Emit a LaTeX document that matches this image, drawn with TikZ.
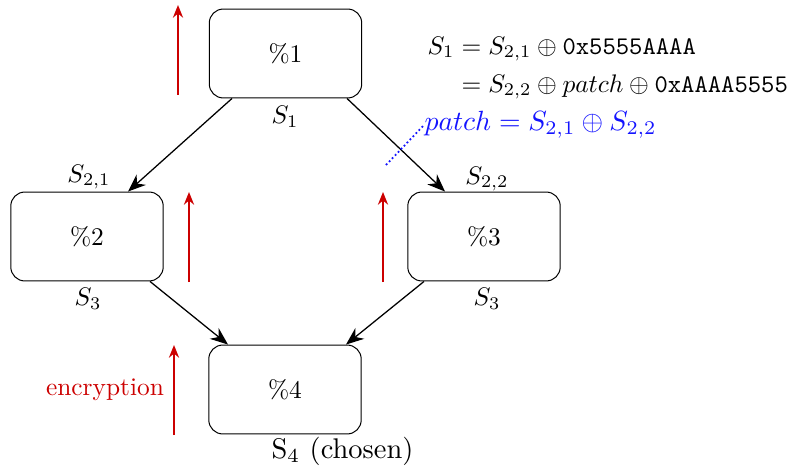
\documentclass[tikz,border=0pt]{standalone}
\usepackage{amsmath}
\usetikzlibrary{arrows.meta,calc}
\definecolor{encred}{RGB}{204,0,0}
\definecolor{patchblue}{RGB}{20,20,255}
\begin{document}
\begin{tikzpicture}[x=0.3937pt,y=-0.3937pt,
  blk/.style={draw,rounded corners=5.5pt,minimum width=60pt,minimum height=35pt,inner sep=0pt,line width=0.4pt},
  flow/.style={-{Stealth[length=7pt,width=5.5pt]},line width=0.5pt},
  enc/.style={encred,line width=0.75pt,-{Stealth[length=5pt,width=4pt]}},
  lbl/.style={inner sep=0pt}]
\useasboundingbox (0,0) rectangle (792,470);
% boxes
\node[blk] (b1) at (285.5,53.5) {\%1};
\node[blk] (b2) at (87,236.5) {\%2};
\node[blk] (b3) at (484,236.5) {\%3};
\node[blk] (b4) at (285,389.5) {\%4};
% state labels
\node[lbl] (l1) at (285,117) {$S_1$};
\node[lbl] (l21) at (89,177) {$S_{2,1}$};
\node[lbl] (l3a) at (88,299) {$S_3$};
\node[lbl] (l22) at (487,179) {$S_{2,2}$};
\node[lbl] (l3b) at (487,299) {$S_3$};
\node[lbl,scale=1.12] (l4) at (342.5,451) {S$_4$ (chosen)};
% flow arrows
\draw[flow] ($(b1.south)+(-53.5,0)$) -- ($(b2.north)+(41,0)$);
\draw[flow] ($(b1.south)+(61.5,0)$) -- ($(b3.north)+(-39,0)$);
\draw[flow] ($(b2.south)+(63,0)$) -- ($(b4.north)+(-57,0)$);
\draw[flow] ($(b3.south)+(-60,0)$) -- ($(b4.north)+(61,0)$);
% encryption arrows
\coordinate (e1s) at (178,95); \coordinate (e1e) at (178,5);
\coordinate (e2s) at (189,282); \coordinate (e2e) at (189,192);
\coordinate (e3s) at (383,282); \coordinate (e3e) at (383,192);
\coordinate (e4s) at (174,435); \coordinate (e4e) at (174,345);
\draw[enc] (e1s) -- (e1e);
\draw[enc] (e2s) -- (e2e);
\draw[enc] (e3s) -- (e3e);
\draw[enc] (e4s) -- (e4e);
\node[lbl,text=encred] (enclbl) at (105,390) {encryption};
% equations
\node[lbl,anchor=west] (eq) at (427,67) {$\begin{aligned} S_1 &= S_{2,1}\oplus\texttt{0x5555AAAA}\\ &= S_{2,2}\oplus patch\oplus\texttt{0xAAAA5555}\end{aligned}$};
\node[lbl,anchor=west,text=patchblue,scale=1.094] (patch) at (424,125) {$patch = S_{2,1}\oplus S_{2,2}$};
\coordinate (pd) at (386,165);
\draw[patchblue,densely dotted,line width=0.7pt] (pd) -- (patch.west);
\end{tikzpicture}
\end{document}
